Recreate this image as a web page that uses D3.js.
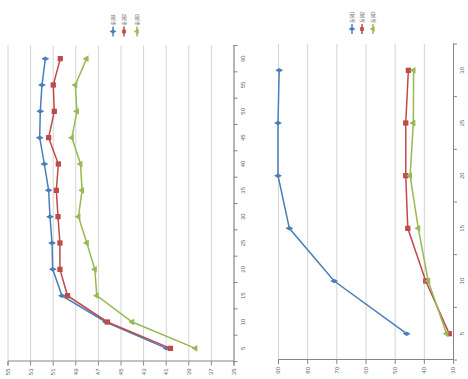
<!DOCTYPE html>
<html>
<head>
<meta charset="utf-8">
<script src="https://cdn.jsdelivr.net/npm/d3@7"></script>
<style>
body { margin: 0; background: #fff; }
svg { display: block; font-family: "Liberation Sans", "Noto Sans CJK SC", sans-serif; }
.axis path, .axis line { stroke: #868686; }
.axis text { fill: #666; }
.grid line { stroke: #d4d4d4; }
.grid path { stroke: none; }
</style>
</head>
<body>
<svg id="chart" width="468" height="379"></svg>
<script>
// left chart
var cats1 = [5, 10, 15, 20, 25, 30, 35, 40, 45, 50, 55, 60];
var blue1 = [40.93, 46.3, 50.18, 51.0, 51.06, 51.24, 51.36, 51.74, 52.15, 52.1, 51.95, 51.65];
var red1 = [40.58, 46.16, 49.69, 50.36, 50.36, 50.53, 50.68, 50.5, 51.36, 50.86, 50.95, 50.33];
var green1 = [38.37, 43.96, 47.1, 47.27, 47.98, 48.72, 48.4, 48.54, 49.3, 48.86, 49.0, 48.0];
var ticks1 = [35, 37, 39, 41, 43, 45, 47, 49, 51, 53, 55];

// right chart
var cats2 = [5, 10, 15, 20, 25, 30];
var blue2 = [45.9, 70.75, 86.1, 90, 90, 89.6];
var red2 = [31.3, 39.35, 45.5, 46.2, 46.2, 45.3];
var green2 = [32.2, 38.5, 41.9, 44.7, 43.6, 43.5];
var ticks2 = [30, 40, 50, 60, 70, 80, 90];

var seriesNames = ["系列1", "系列2", "系列3"];
var COLORS = ["#4a7ebb", "#be4b48", "#98b954"];
var SYMBOLS = [d3.symbolDiamond, d3.symbolSquare, d3.symbolTriangle];
var SYM_SIZE = [18, 28, 20];

var svg = d3.select("#chart");

// the whole picture is an ordinary line chart turned a quarter turn to the left
function drawChart(opt){
	var g = svg.append("g")
		.attr("transform", "translate(" + opt.tx + "," + opt.ty + ") rotate(-90)");
	var w = opt.w, h = opt.h;

	var x = d3.scaleBand().domain(opt.cats).range([0, w]);
	var y = d3.scaleLinear().domain(opt.domain).range([h, 0]);

	// gridlines
	g.append("g")
		.classed("grid", true)
		.call(d3.axisLeft(y).tickValues(opt.ticks).tickSize(-w).tickFormat(""));

	// value axis
	g.append("g")
		.classed("axis", true)
		.call(d3.axisLeft(y).tickValues(opt.ticks).tickSize(4).tickPadding(3))
		.call(function(a){ a.selectAll("text").attr("font-size", 6); });

	// category axis, tick marks sit between the categories
	var xa = g.append("g")
		.classed("axis", true)
		.attr("transform", "translate(0," + h + ")")
		.call(d3.axisBottom(x).tickSizeOuter(0).tickSize(0).tickPadding(7))
		.call(function(a){ a.selectAll("text").attr("font-size", 6); });
	xa.selectAll(".between")
		.data(d3.range(opt.cats.length + 1))
		.enter()
		.append("line")
		.attr("stroke", "#868686")
		.attr("x1", function(i){ return i * x.bandwidth(); })
		.attr("x2", function(i){ return i * x.bandwidth(); })
		.attr("y1", 0)
		.attr("y2", 4);

	var line = d3.line()
		.x(function(d, i){ return x(opt.cats[i]) + x.bandwidth() / 2; })
		.y(function(d){ return y(d); });

	opt.series.forEach(function(vals, k){
		g.append("path")
			.attr("d", line(vals))
			.attr("fill", "none")
			.attr("stroke", COLORS[k])
			.attr("stroke-width", 1.5);
		g.selectAll(".m" + k)
			.data(vals)
			.enter()
			.append("path")
			.attr("d", d3.symbol().type(SYMBOLS[k]).size(SYM_SIZE[k]))
			.attr("fill", COLORS[k])
			.attr("transform", function(d, i){
				return "translate(" + (x(opt.cats[i]) + x.bandwidth() / 2) + "," + y(d) + ")";
			});
	});

	// legend (right of the plot before turning)
	var leg = g.selectAll(".legend")
		.data(seriesNames)
		.enter()
		.append("g")
		.attr("transform", function(d, i){
			return "translate(" + opt.legU + "," + opt.legV[i] + ")";
		});
	leg.append("line")
		.attr("x1", -5).attr("x2", 5)
		.attr("stroke", function(d, i){ return COLORS[i]; })
		.attr("stroke-width", 1.5);
	leg.append("path")
		.attr("d", function(d, i){ return d3.symbol().type(SYMBOLS[i]).size(14)(); })
		.attr("fill", function(d, i){ return COLORS[i]; });
	leg.append("text")
		.attr("x", 6)
		.attr("dy", "0.35em")
		.attr("font-size", 4.5)
		.attr("fill", "#777")
		.text(function(d){ return d; });
}

drawChart({
	tx: 7.5, ty: 361.5, w: 316, h: 226,
	cats: cats1, domain: [35, 55], ticks: ticks1,
	series: [blue1, red1, green1],
	legU: 330, legV: [105.5, 116.5, 129.5]
});

drawChart({
	tx: 278, ty: 360, w: 316, h: 175,
	cats: cats2, domain: [30, 90], ticks: ticks2,
	series: [blue2, red2, green2],
	legU: 331, legV: [74, 84, 95]
});
</script>
</body>
</html>
